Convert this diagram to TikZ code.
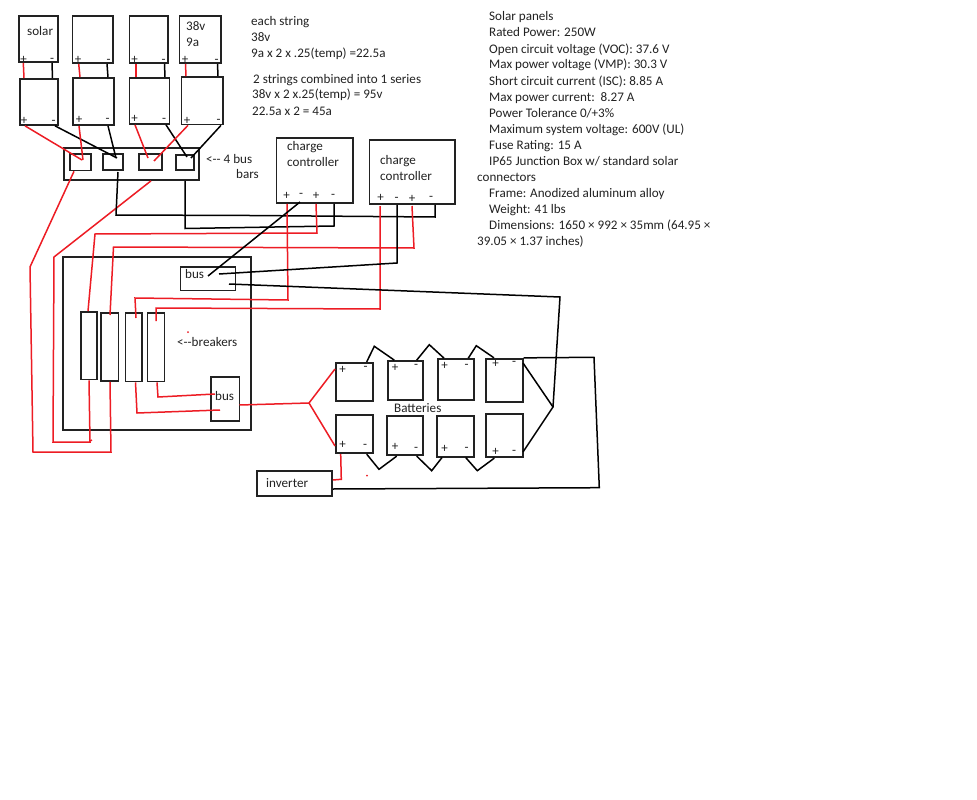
\documentclass[tikz,border=0pt]{standalone}
\usepackage{fontspec}
\setmainfont{Carlito}
\definecolor{wirered}{RGB}{237,28,36}
\definecolor{ink}{RGB}{34,34,34}
\tikzset{
  boxnode/.style={draw=ink,line width=1.7pt,inner sep=0pt,rectangle},
  lbl/.style={anchor=base west,inner sep=0pt,text=ink,font=\fontsize{13.1pt}{16pt}\selectfont},
  pol/.style={anchor=center,inner sep=0pt,text=ink,font=\fontsize{13pt}{14pt}\selectfont},
  redw/.style={draw=wirered,line width=1.5pt,line join=miter},
  blkw/.style={draw=black,line width=1.5pt,line join=miter}
}
\newcommand{\bx}[5]{%
  \pgfmathsetmacro{\bxw}{#4-#2}\pgfmathsetmacro{\bxh}{#5-#3}%
  \pgfmathsetmacro{\bxx}{(#4+#2)/2}\pgfmathsetmacro{\bxy}{(#5+#3)/2}%
  \node[boxnode,minimum width=\bxw pt,minimum height=\bxh pt] (#1) at (\bxx,\bxy) {};}
\newcommand{\lb}[4]{\node[lbl] (#1) at (#2,#3) {#4};}
\newcommand{\pl}[4]{\node[pol] (#1) at (#2,#3) {#4};}
\begin{document}
\begin{tikzpicture}[x=1pt,y=-1pt]
\useasboundingbox[fill=white] (0,0) rectangle (977,800);
% panels
\bx{pa1}{19}{16}{58}{62}\bx{pa2}{72.5}{16}{113}{63}\bx{pa3}{129.5}{16}{168}{63}\bx{pa4}{179.5}{16}{221}{63}
\bx{pb1}{20}{79}{58}{125}\bx{pb2}{73}{78}{114}{125}\bx{pb3}{129.5}{78}{169.5}{124}\bx{pb4}{181.5}{77}{223}{124.5}
% bus bars
\bx{busouter}{64}{148}{199}{180}
\bx{bb1}{70}{154}{91}{170.5}\bx{bb2}{103}{154}{123}{170}\bx{bb3}{139}{154}{162}{170}\bx{bb4}{176}{155}{194}{170}
% charge controllers
\bx{cc1}{276.5}{138}{353}{203}\bx{cc2}{369.5}{140}{455}{204}
% enclosure
\bx{panel}{63}{257}{251}{430}
\bx{busa}{180.5}{267}{235.5}{290.5}\bx{busb}{211}{377}{239.5}{421}
\bx{br1}{81}{312}{97}{379.5}\bx{br2}{101}{313}{118.5}{381}\bx{br3}{125.5}{313}{142}{381.5}\bx{br4}{147.5}{313}{164.5}{381.5}
% batteries
\bx{ta1}{335.7}{362.7}{373.3}{401}\bx{ta2}{387.7}{361}{423}{399.7}\bx{ta3}{437.7}{359}{474.3}{400.3}\bx{ta4}{486}{358.7}{522.7}{401.7}
\bx{tb1}{335.7}{414.7}{373.3}{453.3}\bx{tb2}{387.3}{416}{422.7}{455.3}\bx{tb3}{437.3}{415.7}{474.3}{456.7}\bx{tb4}{486}{414.3}{522.7}{457.3}
\bx{inv}{256.7}{470.7}{332}{495.7}
% panel links
\draw[redw] (23.3,0 |- pa1.south) -- (24,0 |- pb1.north);
\draw[blkw] (52,0 |- pa1.south) -- (52.5,0 |- pb1.north);
\draw[redw] (78.7,0 |- pa2.south) -- (80,0 |- pb2.north);
\draw[blkw] (107,0 |- pa2.south) -- (108,0 |- pb2.north);
\draw[redw] (136,0 |- pa3.south) -- (136,0 |- pb3.north);
\draw[blkw] (164.5,0 |- pa3.south) -- (165,0 |- pb3.north);
\draw[redw] (185.5,0 |- pa4.south) -- (186,0 |- pb4.north);
\draw[blkw] (217.5,0 |- pa4.south) -- (218,0 |- pb4.north);
% panels to bus bars
\draw[redw] (25,0 |- pb1.south) -- (82,160);
\draw[blkw] (55,0 |- pb1.south) -- (117,158);
\draw[redw] (79,0 |- pb2.south) -- (83,160);
\draw[blkw] (108,0 |- pb2.south) -- (116,158);
\draw[redw] (135,0 |- pb3.south) -- (148,158);
\draw[blkw] (166,0 |- pb3.south) -- (187,157);
\draw[redw] (188,0 |- pb4.south) -- (154,161);
\draw[blkw] (221,0 |- pb4.south) -- (191,158);
% bus bars to breakers
\draw[redw] (74,0 |- bb1.south) -- (30,267) -- (33,452) -- (111,452) -- (110,0 |- br2.south);
\draw[redw] (151,0 |- busouter.south) -- (54,257) -- (53,442) -- (90,442) -- (89,0 |- br1.south);
\draw[redw] (90,441) -- (92,440);
% bus bars to controllers
\draw[blkw] (185,0 |- busouter.south) -- (185,228.5) -- (334,226) -- (334,0 |- cc1.south);
\draw[blkw] (118,172) -- (116,215) -- (250,215.5) -- (435,217) -- (435,0 |- cc2.south);
% controllers to breakers
\draw[redw] (88,0 |- br1.north) -- (95,234) -- (317,233) -- (316,0 |- cc1.south);
\draw[redw] (110,315) -- (113.5,247) -- (414,248) -- (412,206);
\draw[redw] (136,318) -- (135,298) -- (288,300) -- (287,0 |- cc1.south);
\draw[redw] (156,321) -- (156,308) -- (380,309) -- (380,206);
% negative to bus
\draw[blkw] (300,202) -- (208,276);
\draw[blkw] (397,0 |- cc2.south) -- (397,263) -- (219,274);
\draw[blkw] (229,284) -- (560,297) -- (553,407);
\draw[blkw] (523,363) -- (553,407) -- (523,452);
% breakers to bus
\draw[redw] (157,0 |- br4.south) -- (158,397) -- (215,394);
\draw[redw] (135.5,0 |- br3.south) -- (137,413) -- (220,410);
% bus to batteries
\draw[redw] (239.5,405) -- (309,403) -- (335,369);
\draw[redw] (309,403) -- (335,446);
% battery jumpers
\draw[blkw] (366.7,0 |- ta1.north) -- (374.3,346.3) -- (394.3,0 |- ta2.north);
\draw[blkw] (416.7,0 |- ta2.north) -- (429.3,344.7) -- (444,0 |- ta3.north);
\draw[blkw] (468.3,0 |- ta3.north) -- (476.3,345.7) -- (494,0 |- ta4.north);
\draw[blkw] (366.7,0 |- tb1.south) -- (379,469.3) -- (396.7,0 |- tb2.south);
\draw[blkw] (416.7,0 |- tb2.south) -- (431.7,470.7) -- (442,0 |- tb3.south);
\draw[blkw] (465.7,0 |- tb3.south) -- (477.3,470.7) -- (494.3,0 |- tb4.south);
\draw[blkw] (ta4.north east) -- (594,357.3) -- (599.3,487.7) -- (inv.east |- 0,489);
\draw[redw] (340.7,0 |- tb1.south) -- (341.3,479.3) -- (inv.east |- 0,480);
\fill[wirered] (367,475.5) circle (1);
\fill[wirered] (188,332) circle (1);
% box labels
\lb{tsolar}{27}{36}{solar}
\lb{tv}{186}{31}{38v}
\lb{ta}{186}{47}{9a}
\lb{tbus1}{206}{163}{<-{}- 4 bus}
\lb{tbus2}{236}{178}{bars}
\lb{tc1}{287}{150}{charge}
\lb{tc2}{287}{166}{controller}
\lb{td1}{380}{164}{charge}
\lb{td2}{380}{180}{controller}
\lb{tbusa}{185}{278}{bus}
\lb{tbusb}{215}{400}{bus}
\lb{tbrk}{177}{346}{<-{}-breakers}
\lb{tbat}{394}{412}{Batteries}
\lb{tinv}{266}{487}{inverter}
% notes
\lb{n1}{251}{26}{each string}
\lb{n2}{251}{42}{38v}
\lb{n3}{251}{58}{9a x 2 x .25(temp) =22.5a}
\lb{n4}{253}{83}{2 strings combined into 1 series}
\lb{n5}{252}{99}{38v x 2 x.25(temp) = 95v}
\lb{n6}{252}{115}{22.5a x 2 = 45a}
\lb{s1}{489}{21}{Solar panels}
\lb{s2}{489}{37}{Rated Power: 250W}
\lb{s3}{489}{53}{Open circuit voltage (VOC): 37.6 V}
\lb{s4}{489}{69}{Max power voltage (VMP): 30.3 V}
\lb{s5}{489}{85}{Short circuit current (ISC): 8.85 A}
\lb{s6}{489}{101}{Max power current:\ \ 8.27 A}
\lb{s7}{489}{117}{Power Tolerance 0/+3\%}
\lb{s8}{489}{133}{Maximum system voltage: 600V (UL)}
\lb{s9}{489}{149}{Fuse Rating: 15 A}
\lb{s10}{489}{165}{IP65 Junction Box w/ standard solar}
\lb{s11}{477}{181}{connectors}
\lb{s12}{489}{197}{Frame: Anodized aluminum alloy}
\lb{s13}{489}{213}{Weight: 41 lbs}
\lb{s14}{489}{229}{Dimensions: 1650 × 992 × 35mm (64.95 ×}
\lb{s15}{477}{245}{39.05 × 1.37 inches)}
% polarity marks
\pl{m1}{23.5}{60}{+}\pl{m2}{52}{60}{-}\pl{m3}{78}{60}{+}\pl{m4}{108.5}{61}{-}
\pl{m5}{134.5}{60}{+}\pl{m6}{163.5}{61}{-}\pl{m7}{185}{60}{+}\pl{m8}{216.5}{61}{-}
\pl{m9}{24}{121}{+}\pl{m10}{53.5}{122}{-}\pl{m11}{79}{120}{+}\pl{m12}{107.5}{120}{-}
\pl{m13}{134.5}{119}{+}\pl{m14}{164}{120}{-}\pl{m15}{187}{121}{+}\pl{m16}{218.5}{121}{-}
\pl{c1}{286.5}{196}{+}\pl{c2}{301}{195}{-}\pl{c3}{316}{196}{+}\pl{c4}{333}{196}{-}
\pl{d1}{380.5}{198}{+}\pl{d2}{396.5}{199}{-}\pl{d3}{412}{199}{+}\pl{d4}{431}{198}{-}
\pl{e1}{342.5}{370}{+}\pl{e2}{365.5}{368}{-}\pl{e3}{395}{368}{+}\pl{e4}{416}{366}{-}
\pl{e5}{444.5}{366}{+}\pl{e6}{466.5}{366}{-}\pl{e7}{495.5}{364}{+}\pl{e8}{514}{363}{-}
\pl{f1}{342.5}{445}{+}\pl{f2}{365}{446}{-}\pl{f3}{395}{447}{+}\pl{f4}{416}{449}{-}
\pl{f5}{444.5}{449}{+}\pl{f6}{466.5}{449}{-}\pl{f7}{495.5}{452}{+}\pl{f8}{514}{452}{-}
\end{tikzpicture}
\end{document}
